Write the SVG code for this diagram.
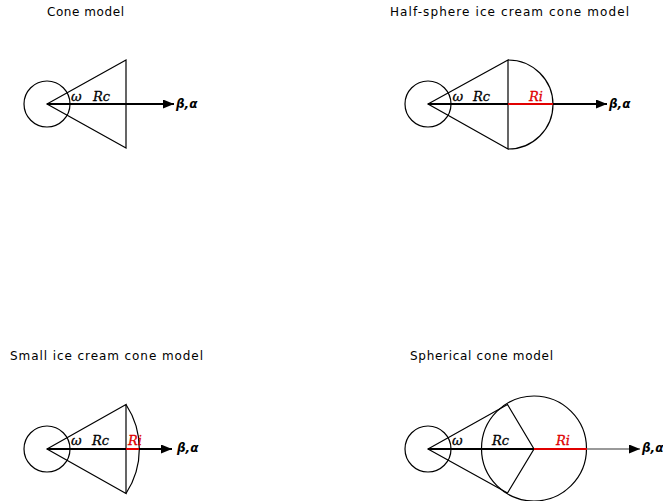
<svg xmlns="http://www.w3.org/2000/svg" width="663" height="501" viewBox="0 0 663 501">
<style>
.bg{fill:#ffffff}
.title{font-family:"DejaVu Sans","Liberation Sans",sans-serif;font-size:12px;fill:#000}
.lbl{font-family:"DejaVu Serif","Liberation Serif",serif;font-style:italic;font-size:13px;fill:#000;stroke:#000;stroke-width:0.3}
.ri{fill:#e00000;stroke:#e00000}
.ba{font-family:"DejaVu Sans","Liberation Sans",sans-serif;font-style:italic;font-weight:bold;font-size:12px;fill:#000}
.shape{fill:none;stroke:#000;stroke-width:1.2}
.axis{fill:none;stroke:#000;stroke-width:2}
.red{fill:none;stroke:#e00000;stroke-width:2}
.grey{fill:none;stroke:#777;stroke-width:1.5}
</style>
<defs>
<marker id="arr" markerUnits="userSpaceOnUse" markerWidth="12" markerHeight="10" refX="11" refY="4.5" orient="auto">
<path d="M0,0 L11,4.5 L0,9 Z" fill="#000"/>
</marker>
</defs>
<rect class="bg" x="0" y="0" width="663" height="501"/>

<g id="cone-model">
<text class="title" x="47" y="16" textLength="77" lengthAdjust="spacing">Cone model</text>
<circle class="shape" cx="47" cy="104" r="23"/>
<path class="shape" d="M47,104 L126,60 L126,148 Z"/>
<text class="lbl" x="71" y="101">ω</text>
<text class="lbl" x="93" y="101">Rc</text>
<text class="ba" x="176" y="108">β,α</text>
</g>

<g id="half-sphere-model">
<text class="title" x="390" y="16" textLength="239" lengthAdjust="spacing">Half-sphere ice cream cone model</text>
<circle class="shape" cx="428" cy="104" r="23"/>
<path class="shape" d="M428,104 L508,60 L508,149 Z"/>
<path class="shape" d="M508,60 A45,44.5 0 0 1 508,149"/>
<text class="lbl" x="452.5" y="101">ω</text>
<text class="lbl" x="473" y="101">Rc</text>
<text class="lbl ri" x="529" y="101">Ri</text>
<text class="ba" x="609" y="108">β,α</text>
</g>

<g id="small-ice-cream-model">
<text class="title" x="10" y="360" textLength="193" lengthAdjust="spacing">Small ice cream cone model</text>
<circle class="shape" cx="47" cy="449" r="23"/>
<path class="shape" d="M47,449 L126,404.5 L126,493.5 Z"/>
<path class="shape" d="M126,404.5 A81,81 0 0 1 126,493.5"/>
<text class="lbl" x="71" y="445">ω</text>
<text class="lbl" x="92" y="445">Rc</text>
<text class="lbl ri" x="128" y="445">Ri</text>
<text class="ba" x="177" y="452">β,α</text>
</g>

<g id="spherical-cone-model">
<text class="title" x="410" y="360" textLength="143" lengthAdjust="spacing">Spherical cone model</text>
<circle class="shape" cx="428" cy="449" r="23"/>
<circle class="shape" cx="534" cy="448.5" r="52.5"/>
<path class="shape" d="M428,449 L507.5,404.5 L534,449 L507.5,493 Z"/>
<text class="lbl" x="452" y="445">ω</text>
<text class="lbl" x="492" y="445">Rc</text>
<text class="lbl ri" x="556" y="445">Ri</text>
<text class="ba" x="642" y="452">β,α</text>
</g>

<g id="connectors">
<line class="axis" x1="47" y1="104" x2="174" y2="104" marker-end="url(#arr)"/>
<line class="axis" x1="428" y1="104" x2="607" y2="104" marker-end="url(#arr)"/>
<line class="red" x1="508" y1="104" x2="553" y2="104"/>
<line class="axis" x1="47" y1="449" x2="172" y2="449" marker-end="url(#arr)"/>
<line class="red" x1="126" y1="449" x2="139" y2="449"/>
<line class="grey" x1="587" y1="449" x2="640" y2="449" marker-end="url(#arr)"/>
<line class="axis" x1="428" y1="449" x2="534" y2="449"/>
<line class="red" x1="534" y1="449" x2="587" y2="449"/>
</g>
</svg>
